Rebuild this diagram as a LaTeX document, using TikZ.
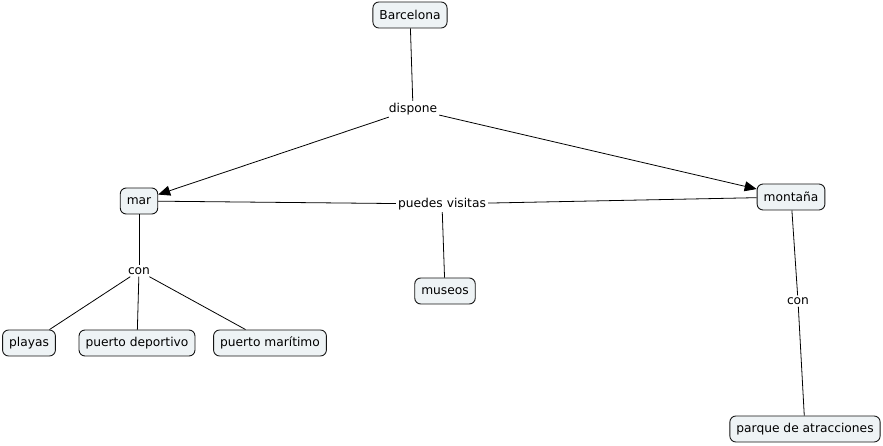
\documentclass[tikz,border=0pt]{standalone}
\usepackage{fontspec}
\setmainfont{DejaVu Sans}
\usetikzlibrary{arrows.meta}
\definecolor{conceptfill}{RGB}{238,243,245}
\definecolor{conceptline}{RGB}{20,20,20}
\tikzset{
  concept/.style={draw=conceptline, line width=0.9pt, fill=conceptfill, rounded corners=6pt,
    minimum height=26bp, inner xsep=6.5bp, font=\fontsize{12.3}{14}\selectfont},
  phrase/.style={fill=white, inner sep=2bp, font=\fontsize{12.3}{14}\selectfont},
  link/.style={draw=black, line width=0.8pt},
  tip/.style={-{Triangle[length=12bp,width=10bp]}}
}
\begin{document}
\begin{tikzpicture}[x=1bp, y=-1bp]
          \useasboundingbox (0, 0) rectangle (883, 446);
          \node[concept] (barcelona) at (410, 15) {Barcelona};
          \node[phrase] (dispone) at (413, 109) {dispone};
          \node[concept] (mar) at (139, 201) {mar};
          \node[phrase] (visitas) at (442, 204) {puedes visitas};
          \node[concept] (montana) at (791, 197) {montaña};
          \node[concept] (museos) at (445, 291) {museos};
          \node[phrase] (conmar) at (139, 271) {con};
          \node[concept] (playas) at (29, 343) {playas};
          \node[concept] (deportivo) at (137, 343) {puerto deportivo};
          \node[concept] (maritimo) at (270, 343) {puerto marítimo};
          \node[phrase] (conmontana) at (798, 301) {con};
          \node[concept] (parque) at (805, 429) {parque de atracciones};
          \draw[link] (barcelona) -- (dispone);
          \draw[link, tip] (dispone) -- (mar);
          \draw[link, tip] (dispone) -- (montana);
          \draw[link] (mar) -- (visitas);
          \draw[link] (visitas) -- (montana);
          \draw[link] (visitas) -- (museos);
          \draw[link] (mar) -- (conmar);
          \draw[link] (conmar) -- (playas);
          \draw[link] (conmar) -- (deportivo);
          \draw[link] (conmar) -- (maritimo);
          \draw[link] (montana) -- (conmontana);
          \draw[link] (conmontana) -- (parque);
        \end{tikzpicture}
\end{document}
